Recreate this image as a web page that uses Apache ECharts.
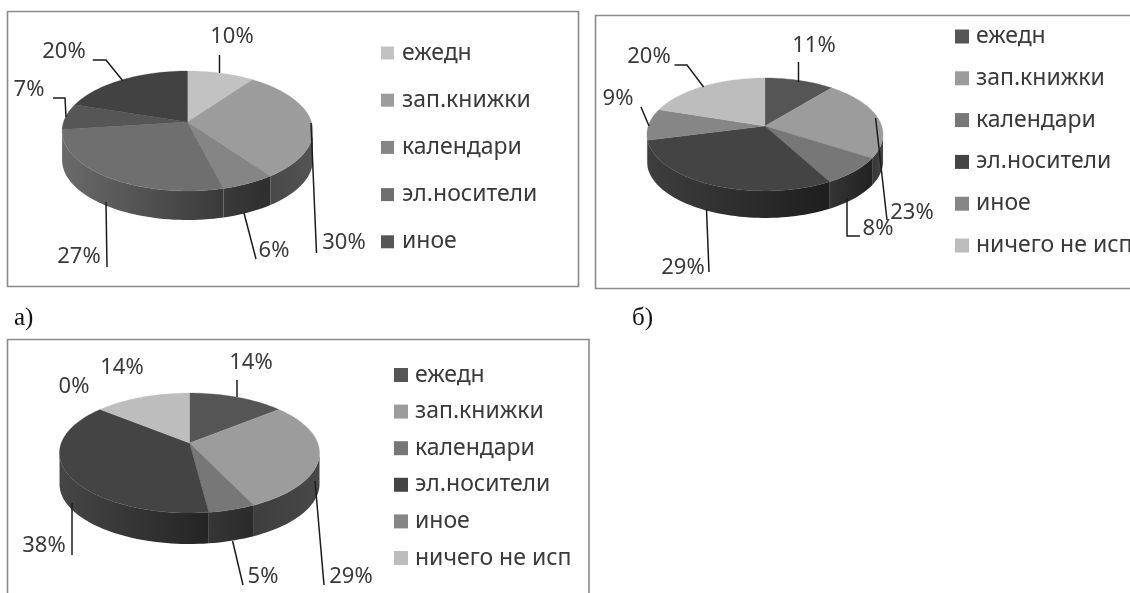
<!DOCTYPE html>
<html><head><meta charset="utf-8">
<script src="https://cdn.jsdelivr.net/npm/echarts@6/dist/echarts.min.js"></script>
<style>html,body{margin:0;padding:0;background:#fff;overflow:hidden}#c{width:1130px;height:593px;filter:blur(.5px)}</style>
</head><body><div id="c"></div>
<script>
// ---- data ----
const categories = ['ежедн','зап.книжки','календари','эл.носители','иное','ничего не исп'];
const valuesA = [10,30,6,27,7,20];
const valuesB = [11,23,8,29,9,20];
const valuesC = [14,29,5,38,0,14];
const legendCountA = 5, legendCountB = 6, legendCountC = 6;
const colorsA = ['#c2c2c2','#9c9c9c','#858585','#6f6f6f','#565656','#424242'];
const colorsB = ['#555555','#9c9c9c','#777777','#444444','#868686','#bdbdbd'];
const colorsC = colorsB;
// wall shading of each slice, left to right
const wallsA = [null,['#484848','#545454'],['#3a3a3a','#2e2e2e'],['#6a6a6a','#3a3a3a'],['#6a6a6a','#6a6a6a'],null];
const wallsB = [null,['#363636','#444444'],['#343434','#222222'],['#3e3e3e','#1e1e1e'],['#3e3e3e','#3e3e3e'],null];
const wallsC = [null,['#3e3e3e','#484848'],['#363636','#2a2a2a'],['#464646','#242424'],null,null];

// ---- layout ----
const pies = [
 {values:valuesA,colors:colorsA,walls:wallsA,legendCount:legendCountA,cx:187.5,cy:122,B:124,A:58.65,k:.15,depth:29,
  frame:[7.5,11.5,571,275],
  legend:{x:381,y:53,gap:47.2,size:13,font:23,textGap:8},
  labels:[[232,37],[344,243],[274,251],[79,257],[29,90],[64,52]],
  leaders:[[[219.5,55],[219.5,73]],[[316.5,253],[311,123]],[[256,259],[244,213]],[[107,267],[106,202]],[[53,98],[65,98],[66,117]],[[92.7,60],[106,60],[123,81]]]},
 {values:valuesB,colors:colorsB,walls:wallsB,legendCount:legendCountB,cx:765,cy:126,B:116.7,A:55.2,k:.15,depth:27,
  frame:[595.5,15.5,560,273],
  legend:{x:955,y:36.5,gap:41.8,size:14,font:23,textGap:7},
  labels:[[814,46],[912,213],[878,229],[683,268],[618,99],[649,57]],
  leaders:[[[798.5,62],[798.5,82]],[[887,220],[875.6,118]],[[860,236],[847,236],[847,198]],[[709,272],[706.5,209]],[[641,107],[649,126]],[[674.5,65],[687,65],[703.6,87]]]},
 {values:valuesC,colors:colorsC,walls:wallsC,legendCount:legendCountC,cx:189.5,cy:443,B:128.2,A:58.3,k:.167,depth:31,
  frame:[7.5,339.5,581.5,270],
  legend:{x:394,y:375,gap:36.6,size:14,font:23,textGap:7},
  labels:[[251,363],[351,577],[263,577],[44,546],[74,387],[122,368]],
  leaders:[[[237,380],[237,397]],[[324,585],[315,481]],[[243,585],[232.6,541]],[[72,555],[72,503]],null,null]}
];
const textColor = '#3a3a3a';
const fontFamily = '"Noto Sans",sans-serif';

function project(p,a){ // a: clockwise angle from the top, radians
  const u=Math.sin(a), v=-Math.cos(a), w=1-p.k*v;
  return [p.cx+p.B*u/w, p.cy+p.A*v/w];
}
function renderSlice(p,idx){
  return function(params,api){
    const value=api.value(0), startPct=api.value(1);
    const children=[];
    const a0=startPct/100*2*Math.PI, a1=(startPct+value)/100*2*Math.PI;
    const n=Math.max(2,Math.ceil((a1-a0)/(2*Math.PI/180)));
    const col=p.colors[idx];
    // side wall: outer arc shifted down by the depth, shaded left to right
    const rim=[];
    for(let i=0;i<=n;i++){
      const a=a0+(a1-a0)*i/n;
      if(-Math.cos(a)>=p.k-0.03) rim.push(project(p,a));
    }
    const wall=p.walls[idx];
    if(rim.length>1 && wall){
      const pts=rim.concat(rim.slice().reverse().map(q=>[q[0],q[1]+p.depth]));
      const xs=rim.map(q=>q[0]);
      children.push({type:'polygon',shape:{points:pts},z2:1,
        style:{fill:new echarts.graphic.LinearGradient(Math.min(...xs),0,Math.max(...xs),0,[
            {offset:0,color:wall[0]},{offset:1,color:wall[1]}],true)}});
    }
    // top face
    if(value>0){
      const pts=[[p.cx,p.cy]];
      for(let i=0;i<=n;i++) pts.push(project(p,a0+(a1-a0)*i/n));
      children.push({type:'polygon',shape:{points:pts},style:{fill:col,stroke:col,lineWidth:.3},z2:2});
    }
    // leader and percentage label
    const ld=p.leaders[idx], lb=p.labels[idx];
    if(ld) children.push({type:'polyline',shape:{points:ld},style:{fill:null,stroke:'#1c1c1c',lineWidth:1.5},z2:5});
    children.push({type:'text',x:lb[0],y:lb[1],style:{text:value+'%',fill:textColor,font:'22px '+fontFamily,align:'center',verticalAlign:'middle'},z2:6});
    return {type:'group',children};
  };
}
const series=[], legends=[], graphics=[];
pies.forEach((p,pi)=>{
  let start=0;
  p.values.forEach((v,i)=>{
    series.push({type:'custom',name:categories[i],coordinateSystem:'none',silent:true,animation:false,
      data:[[v,start]],renderItem:renderSlice(p,i),itemStyle:{color:p.colors[i]}});
    start+=v;
  });
  const L=p.legend, lh=Math.round(L.font*1.2);
  legends.push({orient:'vertical',left:L.x,top:L.y-lh/2,itemGap:L.gap-lh,itemWidth:L.size,itemHeight:L.size,
    icon:'rect',selectedMode:false,padding:0,
    textStyle:{color:textColor,fontFamily:fontFamily,fontSize:L.font,lineHeight:lh,padding:[0,0,0,L.textGap-5]},
    data:categories.slice(0,p.legendCount).map((c,i)=>({name:c,itemStyle:{color:p.colors[i]}}))});
  const F=p.frame;
  graphics.push({type:'rect',z:0,shape:{x:F[0],y:F[1],width:F[2],height:F[3]},style:{fill:'#fff',stroke:'#8a8a8a',lineWidth:1.6},silent:true});
});
graphics.push({type:'text',z:10,x:14,y:318,style:{text:'а)',font:'25px "Liberation Serif",serif',fill:'#111',verticalAlign:'middle'}});
graphics.push({type:'text',z:10,x:632,y:318,style:{text:'б)',font:'25px "Liberation Serif",serif',fill:'#111',verticalAlign:'middle'}});

const chart=echarts.init(document.getElementById('c'),null,{renderer:'canvas'});
chart.setOption({animation:false,backgroundColor:'#fff',legend:legends,graphic:graphics,series:series});
</script></body></html>
